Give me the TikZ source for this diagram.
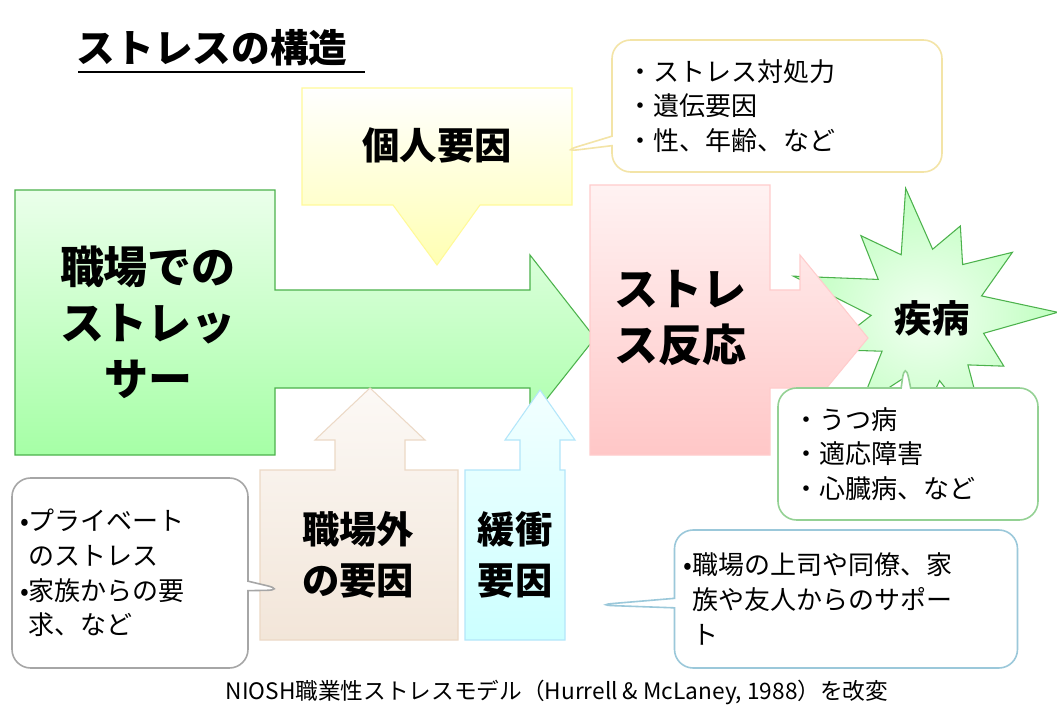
\documentclass[tikz,border=0pt]{standalone}
\usepackage{fontspec}
\setmainfont{Noto Sans CJK JP}
\usetikzlibrary{shapes.symbols,shapes.callouts}
\begin{document}
\begin{tikzpicture}[x=0.75pt,y=-0.75pt,
  big/.style={font=\fontsize{33}{42}\selectfont\bfseries,align=center},
  mid/.style={font=\fontsize{28}{38}\selectfont\bfseries,align=center},
  note/.style={rectangle callout,rounded corners=14pt,draw=#1,line width=1.2pt,fill=white,align=left,inner sep=0pt,font=\fontsize{19.5}{26}\selectfont},
  shape1/.style={draw=#1,line width=0.8pt}]
\useasboundingbox (0,0) rectangle (1057,720);
\fill[white] (0,0) rectangle (1057,720);
% title
\node[font=\fontsize{29}{34}\selectfont\bfseries,anchor=west] (title) at (72,48) {ストレスの構造};
\draw[line width=2pt] (78,72) -- (365,72);
% individual factor
\path[shape1=yellow!40!white,top color=white,bottom color=yellow!30] (302,88) -- (572,88) -- (572,205) -- (480,205) -- (437,265) -- (393,205) -- (302,205) -- cycle;
\node[mid] (kojin) at (437,145) {個人要因};
% green stressor arrow
\path[shape1=green!40!gray,top color=green!8,bottom color=green!35!white] (15,190) -- (275,190) -- (275,290) -- (530,290) -- (530,255) -- (595,338) -- (530,420) -- (530,388) -- (275,388) -- (275,455) -- (15,455) -- cycle;
\node[big] (stressor) at (148,322) {職場での\\ストレッ\\サー};
% starburst
\node[starburst,starburst points=11,starburst point height=65pt,minimum width=215pt,minimum height=230pt,draw=green!40!gray,inner color=green!5,outer color=green!25,line width=0.8pt,rotate=10] (burst) at (928,315) {};
% pink stress reaction
\path[shape1=red!20,top color=red!5,bottom color=red!22] (590,185) -- (770,185) -- (770,290) -- (800,290) -- (800,255) -- (868,338) -- (800,420) -- (800,388) -- (770,388) -- (770,455) -- (590,455) -- cycle;
\node[big] (reaction) at (680,318) {ストレ\\ス反応};
\node[mid] (shippei) at (932,318) {疾病};
% outside factors
\path[shape1=brown!30,top color=brown!5,bottom color=brown!20] (260,470) -- (335,470) -- (335,440) -- (315,440) -- (370,388) -- (425,440) -- (405,440) -- (405,470) -- (458,470) -- (458,640) -- (260,640) -- cycle;
\node[mid] (gai) at (358,555) {職場外\\の要因};
% buffer
\path[shape1=cyan!30,top color=cyan!5,bottom color=cyan!20] (465,470) -- (520,470) -- (520,440) -- (505,440) -- (540,390) -- (575,440) -- (560,440) -- (560,470) -- (565,470) -- (565,640) -- (465,640) -- cycle;
\node[mid] (kanshou) at (515,555) {緩衝\\要因};
% callouts
\node[note=yellow!50!brown!40,minimum width=330*0.75pt,minimum height=132*0.75pt,text width=300*0.75pt,callout absolute pointer={(560,152)}] (n1) at (777,106) {・ストレス対処力\\・遺伝要因\\・性、年齢、など};
\node[note=green!40!gray!60,minimum width=260*0.75pt,minimum height=132*0.75pt,text width=230*0.75pt,callout absolute pointer={(905,360)}] (n2) at (908,454) {・うつ病\\・適応障害\\・心臓病、など};
\node[note=gray!70,minimum width=236*0.75pt,minimum height=190*0.75pt,text width=220*0.75pt,callout absolute pointer={(285,590)}] (n3) at (130,573) {•プライベート\\\phantom{•}のストレス\\•家族からの要\\\phantom{•}求、など};
\node[note=cyan!50!gray!60,minimum width=343*0.75pt,minimum height=138*0.75pt,text width=325*0.75pt,callout absolute pointer={(595,605)}] (n4) at (846,599) {•職場の上司や同僚、家\\\phantom{•}族や友人からのサポー\\\phantom{•}ト};
\node[font=\fontsize{17}{20}\selectfont] (foot) at (557,692) {NIOSH職業性ストレスモデル（Hurrell \& McLaney, 1988）を改変};
\end{tikzpicture}
\end{document}
